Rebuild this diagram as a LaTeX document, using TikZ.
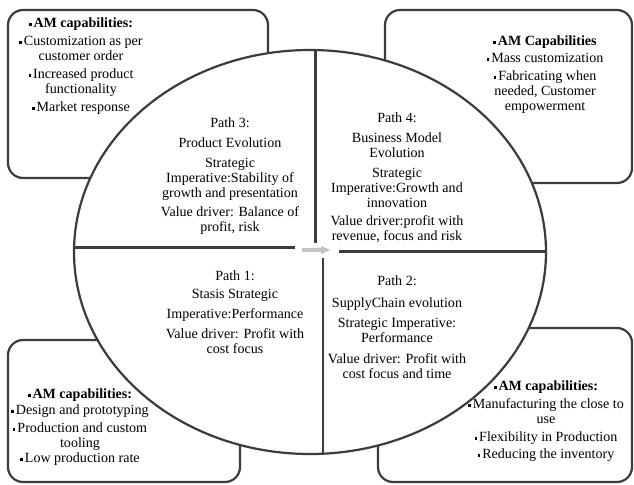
\documentclass[tikz,border=0pt]{standalone}
\usepackage{fontspec}
\setmainfont{Liberation Serif}
\definecolor{linegray}{HTML}{3C3C3C}
\definecolor{arrowgray}{HTML}{C4C4C4}
\newcommand{\sqb}{\raisebox{0.3ex}{\rule{2.6pt}{2.6pt}}\hspace{2pt}}

\begin{document}
\begin{tikzpicture}[scale=0.35]
    \tikzstyle{every node}+=[inner sep=0pt, align=center, anchor=north, font=\fontsize{14}{15}\selectfont]
    \tikzstyle{frame}=[draw=linegray, line width=2.2pt, rounded corners=15pt]
    \tikzstyle{pieline}=[draw=linegray, line width=2.2pt]
    \useasboundingbox (0,0) rectangle (63.4,-48.4);
    % corner boxes
    \draw [frame] (0.8,-1.0) rectangle (26.8,-17.8);
    \draw [frame] (38.5,-1.0) rectangle (63.2,-18.3);
    \draw [frame] (0.8,-34.0) rectangle (24.0,-48.2);
    \draw [frame] (37.8,-32.8) rectangle (63.2,-48.2);
    % pie
    \fill [white] (31.0,-25.2) ellipse (23.6 and 20.2);
    \begin{scope}
    \clip (31.0,-25.2) ellipse (23.6 and 20.2);
    \draw [pieline] (31.55,-2.0) -- (31.55,-24.3);
    \draw [pieline] (5.0,-24.75) -- (29.5,-24.75);
    \draw [pieline] (33.9,-25.15) -- (57.0,-25.15);
    \draw [pieline] (32.3,-25.8) -- (32.3,-48.0);
    \end{scope}
    \draw [pieline] (31.0,-25.2) ellipse (23.6 and 20.2);
    % centre arrow
    \coordinate (arrS) at (30.2,-25.0);
    \coordinate (arrE) at (32.2,-25.0);
    \coordinate (arrT) at (33.0,-25.0);
    \draw [arrowgray, line width=4pt] (arrS) -- (arrE);
    \fill [arrowgray] (arrT) -- ++(-0.9,0.42) -- ++(0,-0.84) -- cycle;
    % AM capabilities
    \node (capTL) at (8.1,-1.75) {\sqb\textbf{AM capabilities:}\\[3pt]
        \sqb Customization as per\\customer order\\[3pt]
        \sqb Increased product\\functionality\\[3pt]
        \sqb Market response};
    \node (capTR) at (54.5,-3.55) {\sqb\textbf{AM Capabilities}\\[2pt]
        \sqb Mass customization\\[3pt]
        \sqb Fabricating when\\needed, Customer\\empowerment};
    \node (capBL) at (8.0,-38.85) {\sqb\textbf{AM capabilities:}\\[1pt]
        \sqb Design and prototyping\\[3pt]
        \sqb Production and custom\\tooling\\
        \sqb Low production rate};
    \node (capBR) at (54.6,-38.05) {\sqb\textbf{AM capabilities:}\\[3pt]
        \sqb Manufacturing the close to\\use\\[3pt]
        \sqb Flexibility in Production\\[2pt]
        \sqb Reducing the inventory};
    % paths
    \node (path3) at (23.0,-11.75) {Path 3:\\[5pt] Product Evolution\\[5pt]
        Strategic\\Imperative:Stability of\\growth and presentation\\[4pt]
        Value driver: Balance of\\profit, risk};
    \node (path4) at (39.7,-11.25) {Path 4:\\[5pt] Business Model\\Evolution\\[5pt]
        Strategic\\Imperative:Growth and\\innovation\\[3pt]
        Value driver:profit with\\revenue, focus and risk};
    \node (path1) at (23.5,-27.05) {Path 1:\\[3pt] Stasis Strategic\\[5pt]
        Imperative:Performance\\[5pt]
        Value driver: Profit with\\cost focus};
    \node (path2) at (39.7,-27.55) {Path 2:\\[7pt] SupplyChain evolution\\[5pt]
        Strategic Imperative:\\Performance\\[6pt]
        Value driver: Profit with\\cost focus and time};
\end{tikzpicture}
\end{document}
